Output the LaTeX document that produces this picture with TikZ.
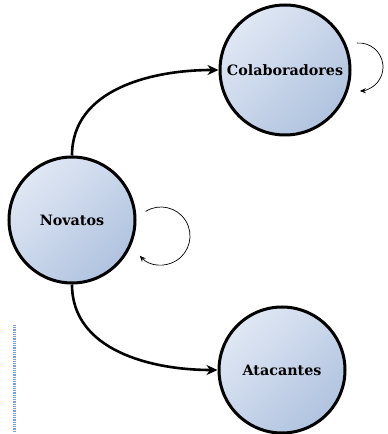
\documentclass[tikz,border=0pt]{standalone}
\usepackage{fontspec}
\setmainfont{DejaVu Serif}
\usetikzlibrary{arrows.meta}
\definecolor{claro}{RGB}{224,231,244}
\definecolor{escuro}{RGB}{176,195,223}
\definecolor{cursor}{RGB}{120,160,225}
\begin{document}
\begin{tikzpicture}[
    x=1pt, y=1pt,
    estado/.style={draw, circle, line width=3pt, minimum size=126pt, inner sep=0pt,
        top color=claro, bottom color=escuro, shading angle=45,
        font=\bfseries\fontsize{14.3}{16}\selectfont},
    transicao/.style={line width=2.6pt, -{Stealth[length=11pt,width=10pt]}},
    laco/.style={line width=0.7pt, -{Stealth[length=6pt,width=5pt]}}
]
    \useasboundingbox (0,0) rectangle (388,434);
    % estados
    \node[estado, minimum size=130pt] (colab) at (285,364) {Colaboradores};
    \node[estado] (novatos) at (72,214) {Novatos};
    \node[estado] (atac) at (282,64) {Atacantes};
    % transicoes
    \draw[transicao] (novatos.north) to[out=90, in=180] (colab.west);
    \draw[transicao] (novatos.south) to[out=-90, in=180] (atac.west);
    % lacos
    \coordinate (lacocolab) at ([shift={(95:24)}]359,367);
    \coordinate (laconovatos) at ([shift={(122:29)}]161,198);
    \draw[laco] (lacocolab) arc[start angle=95, end angle=-88, radius=24];
    \draw[laco] (laconovatos) arc[start angle=122, end angle=-137, radius=29];
    % cursor
    \coordinate (cursorA) at (14,109);
    \coordinate (cursorB) at (14,2);
    \draw[cursor, line width=3pt, dash pattern=on 1pt off 0.8pt] (cursorA) -- (cursorB);
\end{tikzpicture}
\end{document}
